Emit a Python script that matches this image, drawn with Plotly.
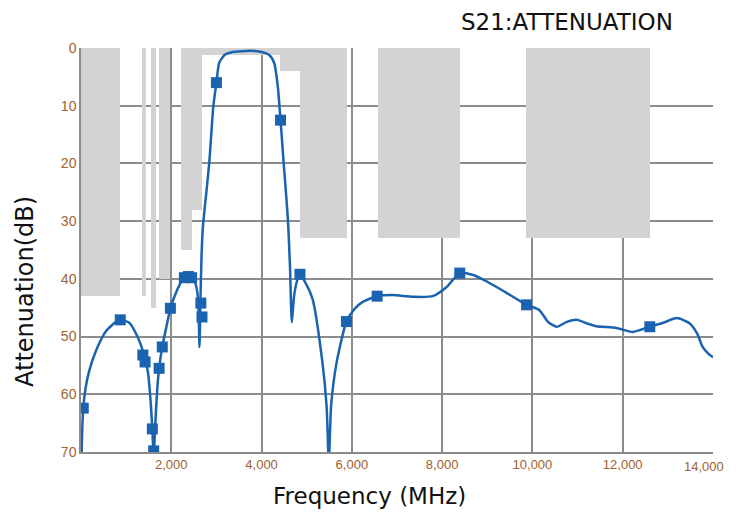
import plotly.graph_objects as go

# ---- curve (S21 attenuation) ----
freq = [0, 20, 50, 100, 180, 330, 560, 850, 1070, 1250, 1400, 1480, 1540, 1580, 1610,
        1640, 1690, 1730, 1800, 1900, 1980, 2100, 2200, 2290, 2380, 2450, 2520, 2570,
        2600, 2625, 2645, 2670, 2700, 2750, 2840, 2930, 3000, 3060, 3180, 3360, 3660,
        3950, 4170, 4280, 4360, 4420, 4490, 4580, 4630, 4670, 4720, 4780, 4850, 4940,
        5130, 5350, 5440, 5490, 5540, 5660, 5880, 6050, 6240, 6560, 6900, 7350, 7790,
        8100, 8390, 8670, 9000, 9400, 9870, 10150, 10350, 10540, 10750, 10980, 11200,
        11420, 11860, 12220, 12600, 12900, 13200, 13480, 13650, 13770, 13900, 14000]
att = [76, 68, 62.4, 59, 56, 52.5, 49, 47.1, 47.6, 50, 53.2, 56, 61, 66, 71,
       66, 59, 55.5, 51.8, 48, 45.1, 42.5, 40.8, 39.8, 39.6, 39.8, 40.5, 42,
       44.5, 51.8, 44, 36, 31, 27, 20, 10.2, 6, 2.6, 1.2, 0.7, 0.5,
       0.6, 1.2, 2.6, 6.7, 12.5, 20, 29.3, 38, 47.5, 43, 40.5, 39.2, 40.2,
       43.5, 54.6, 62, 72, 62, 54.6, 47.4, 45.3, 44, 43, 42.8, 43.1, 43,
       41.4, 39, 39.3, 40.5, 42.3, 44.5, 45.4, 47.5, 48.3, 47.5, 47.1, 47.7,
       48.2, 48.5, 49.2, 48.3, 47.6, 46.8, 47.7, 49.5, 51.8, 53, 53.6]

# ---- marker points ----
m_freq = [50, 870, 1370, 1420, 1580, 1610, 1730, 1800, 1980, 2290, 2380, 2450,
          2655, 2680, 3000, 4420, 4850, 5880, 6560, 8390, 9870, 12600]
m_att = [62.4, 47.1, 53.2, 54.4, 66.0, 69.8, 55.5, 51.8, 45.1, 39.8, 39.6, 39.8,
         44.2, 46.6, 6.0, 12.5, 39.2, 47.4, 43.0, 39.0, 44.5, 48.3]

# ---- attenuation mask (grey regions) ----
mask_start = [0, 1360, 1560, 1730, 2220, 2466, 2690, 4400, 4860, 6570, 9850]
mask_end = [870, 1450, 1670, 1980, 2466, 2690, 4400, 4860, 5900, 8390, 12600]
mask_depth = [43, 43, 45, 40, 35, 28, 1.2, 4, 33, 33, 33]

# ---- axis ticks ----
x_ticks = [2000, 4000, 6000, 8000, 10000, 12000, 14000]
x_tick_text = ["2,000", "4,000", "6,000", "8,000", "10,000", "12,000", "14,000"]
y_ticks = [0, 10, 20, 30, 40, 50, 60, 70]

BLUE = "#1a63b0"
GREY = "#d3d3d3"
TICK_COLOR = "#a0622d"
TICKFONT = "Liberation Sans, Arial, sans-serif"
WIDE = "DejaVu Sans, sans-serif"

# page body has an 8px margin: figure pixel = screen pixel - OFF
OFF = 8
W, H = 736 - OFF, 517 - 2 * OFF
L, T = 81 - OFF, 48 - OFF
PW, PH = 632, 404
R, B = W - L - PW, H - T - PH

fig = go.Figure()

fig.add_trace(go.Bar(
    x=[(s + e) / 2 for s, e in zip(mask_start, mask_end)],
    y=mask_depth,
    width=[e - s for s, e in zip(mask_start, mask_end)],
    base=0,
    marker=dict(color=GREY, line=dict(width=0)),
    hoverinfo="skip",
    showlegend=False,
))

fig.add_trace(go.Scatter(
    x=freq, y=att, mode="lines",
    line=dict(color=BLUE, width=2.5, shape="spline", smoothing=0.6),
    showlegend=False,
))

fig.add_trace(go.Scatter(
    x=m_freq, y=m_att, mode="markers",
    marker=dict(symbol="square", size=11, color=BLUE),
    showlegend=False,
))

def px_x(sx):
    return (sx - OFF - L) / PW

def px_y(sy):
    return (T + PH - (sy - OFF)) / PH

# last tick label drawn as an annotation, right-aligned so it stays inside the page
shown_tick_text = x_tick_text[:-1] + [""]

fig.update_layout(
    width=W, height=H,
    margin=dict(l=L, r=R, t=T, b=B, autoexpand=False),
    paper_bgcolor="white", plot_bgcolor="white",
    bargap=0,
    font=dict(family=TICKFONT, color="#111111"),
    annotations=[
        dict(text="S21:ATTENUATION", x=px_x(567), y=px_y(22), xref="paper", yref="paper",
             xanchor="center", yanchor="middle", showarrow=False,
             font=dict(family=WIDE, size=23, color="#111111")),
        dict(text="Frequency (MHz)", x=px_x(369), y=px_y(496), xref="paper", yref="paper",
             xanchor="center", yanchor="middle", showarrow=False,
             font=dict(family=WIDE, size=23, color="#111111")),
        dict(text="Attenuation(dB)", x=px_x(25), y=px_y(292), xref="paper", yref="paper",
             xanchor="center", yanchor="middle", showarrow=False, textangle=-90,
             font=dict(family=WIDE, size=24, color="#111111")),
        dict(text=x_tick_text[-1], x=x_ticks[-1], xref="x", y=px_y(466), yref="paper",
             xanchor="right", yanchor="middle", xshift=13, showarrow=False,
             font=dict(family=TICKFONT, size=13, color=TICK_COLOR)),
    ],
)

fig.update_xaxes(
    range=[0, 14000], tickvals=x_ticks, ticktext=shown_tick_text,
    tickfont=dict(family=TICKFONT, size=13, color=TICK_COLOR),
    showgrid=True, gridcolor="#8c8c8c", gridwidth=1.5,
    showline=True, linecolor="#8c8c8c", linewidth=1.5,
    zeroline=False, ticks="", automargin=False,
)

fig.update_yaxes(
    range=[70, 0], tickvals=y_ticks,
    tickfont=dict(family=TICKFONT, size=14, color=TICK_COLOR),
    showgrid=True, gridcolor="#8c8c8c", gridwidth=1.5,
    showline=True, linecolor="#8c8c8c", linewidth=1.5,
    zeroline=False, ticks="", automargin=False,
)

fig.write_html("out.html")
